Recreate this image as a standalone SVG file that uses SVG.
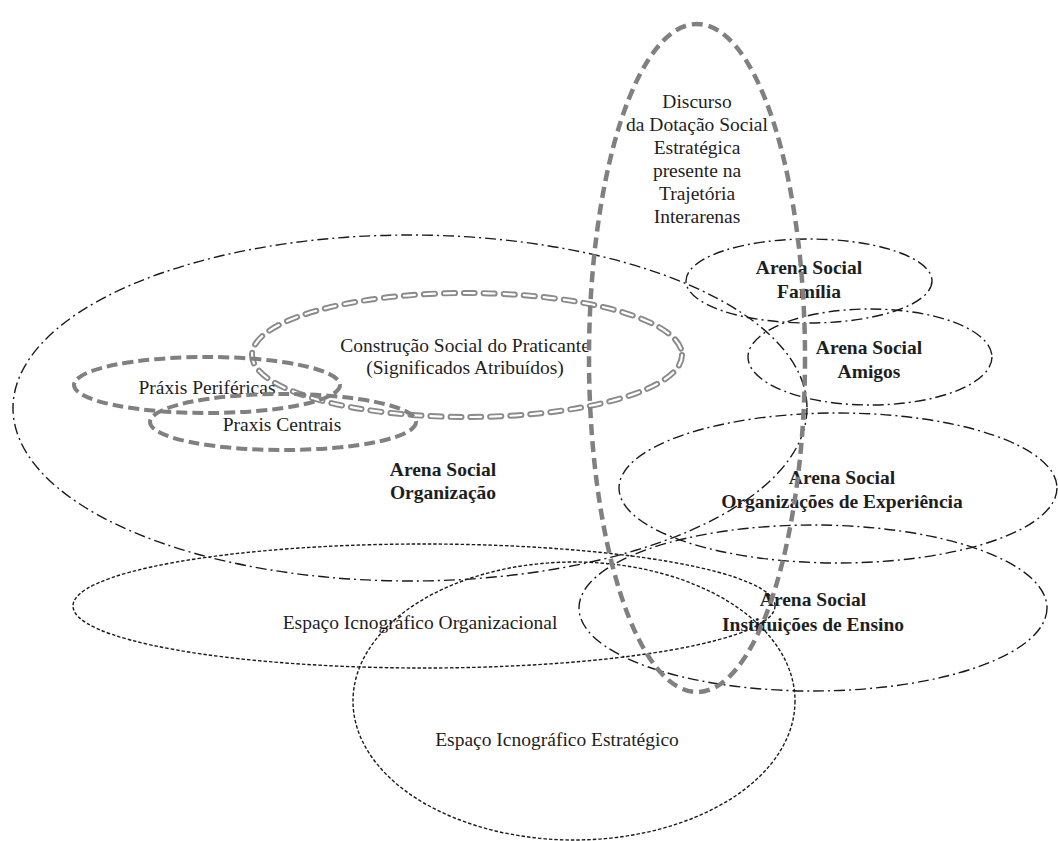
<svg xmlns="http://www.w3.org/2000/svg" width="1058" height="841" viewBox="0 0 1058 841">
<style>
.dd{fill:none;stroke:#1a1a1a;stroke-width:1.4;stroke-dasharray:11 4 2 4}
.dot{fill:none;stroke:#1a1a1a;stroke-width:1.4;stroke-dasharray:3.5 2}
.gd{fill:none;stroke:#808080;stroke-width:4;stroke-dasharray:11 5}
.gv{fill:none;stroke:#808080;stroke-width:4.5;stroke-dasharray:11 6}
.ho{fill:none;stroke:#8a8a8a;stroke-width:6;stroke-dasharray:11 9;stroke-linecap:round}
.hi{fill:none;stroke:#ffffff;stroke-width:2.2;stroke-dasharray:11 9;stroke-linecap:round}
text{font-family:"Liberation Serif","Times New Roman",serif;font-size:19.5px;fill:#1e1e1e;text-anchor:middle}
.b{font-weight:bold}
</style>
<rect width="1058" height="841" fill="#ffffff"/>
<g id="arena-organizacao">
<ellipse class="dd" cx="410" cy="408" rx="397" ry="173"/>
<text class="b" x="443" y="476">Arena Social</text>
<text class="b" x="443" y="499">Organização</text>
</g>
<g id="construcao">
<ellipse class="ho" cx="467" cy="355" rx="215" ry="62"/>
<ellipse class="hi" cx="467" cy="355" rx="215" ry="62"/>
<text x="465" y="352">Construção Social do Praticante</text>
<text x="465" y="374">(Significados Atribuídos)</text>
</g>
<g id="praxis-perifericas">
<ellipse class="gd" cx="207" cy="385" rx="133" ry="28"/>
<text x="207" y="394">Práxis Periféricas</text>
</g>
<g id="praxis-centrais">
<ellipse class="gd" cx="283" cy="422" rx="133" ry="28"/>
<text x="282" y="431">Praxis Centrais</text>
</g>
<g id="arena-familia">
<ellipse class="dd" cx="809" cy="281" rx="123" ry="42"/>
<text class="b" x="809" y="274">Arena Social</text>
<text class="b" x="809" y="298">Família</text>
</g>
<g id="arena-amigos">
<ellipse class="dd" cx="870" cy="357" rx="122" ry="48"/>
<text class="b" x="869" y="354">Arena Social</text>
<text class="b" x="869" y="378">Amigos</text>
</g>
<g id="arena-experiencia">
<ellipse class="dd" cx="838" cy="488" rx="219" ry="75"/>
<text class="b" x="842" y="484">Arena Social</text>
<text class="b" x="842" y="508">Organizações de Experiência</text>
</g>
<g id="arena-ensino">
<ellipse class="dd" cx="813" cy="608" rx="234" ry="83"/>
<text class="b" x="813" y="606">Arena Social</text>
<text class="b" x="813" y="631">Instituições de Ensino</text>
</g>
<g id="espaco-organizacional">
<ellipse class="dot" cx="424" cy="606" rx="351" ry="62"/>
<text x="420" y="629">Espaço Icnográfico Organizacional</text>
</g>
<g id="espaco-estrategico">
<ellipse class="dot" cx="574" cy="701" rx="221" ry="139"/>
<text x="557" y="746">Espaço Icnográfico Estratégico</text>
</g>
<g id="discurso">
<ellipse class="gv" cx="697" cy="358" rx="108" ry="334"/>
<text x="697" y="108">Discurso</text>
<text x="697" y="131">da Dotação Social</text>
<text x="697" y="154">Estratégica</text>
<text x="697" y="177">presente na</text>
<text x="697" y="200">Trajetória</text>
<text x="697" y="223">Interarenas</text>
</g>
<g id="connectors"></g>
</svg>
